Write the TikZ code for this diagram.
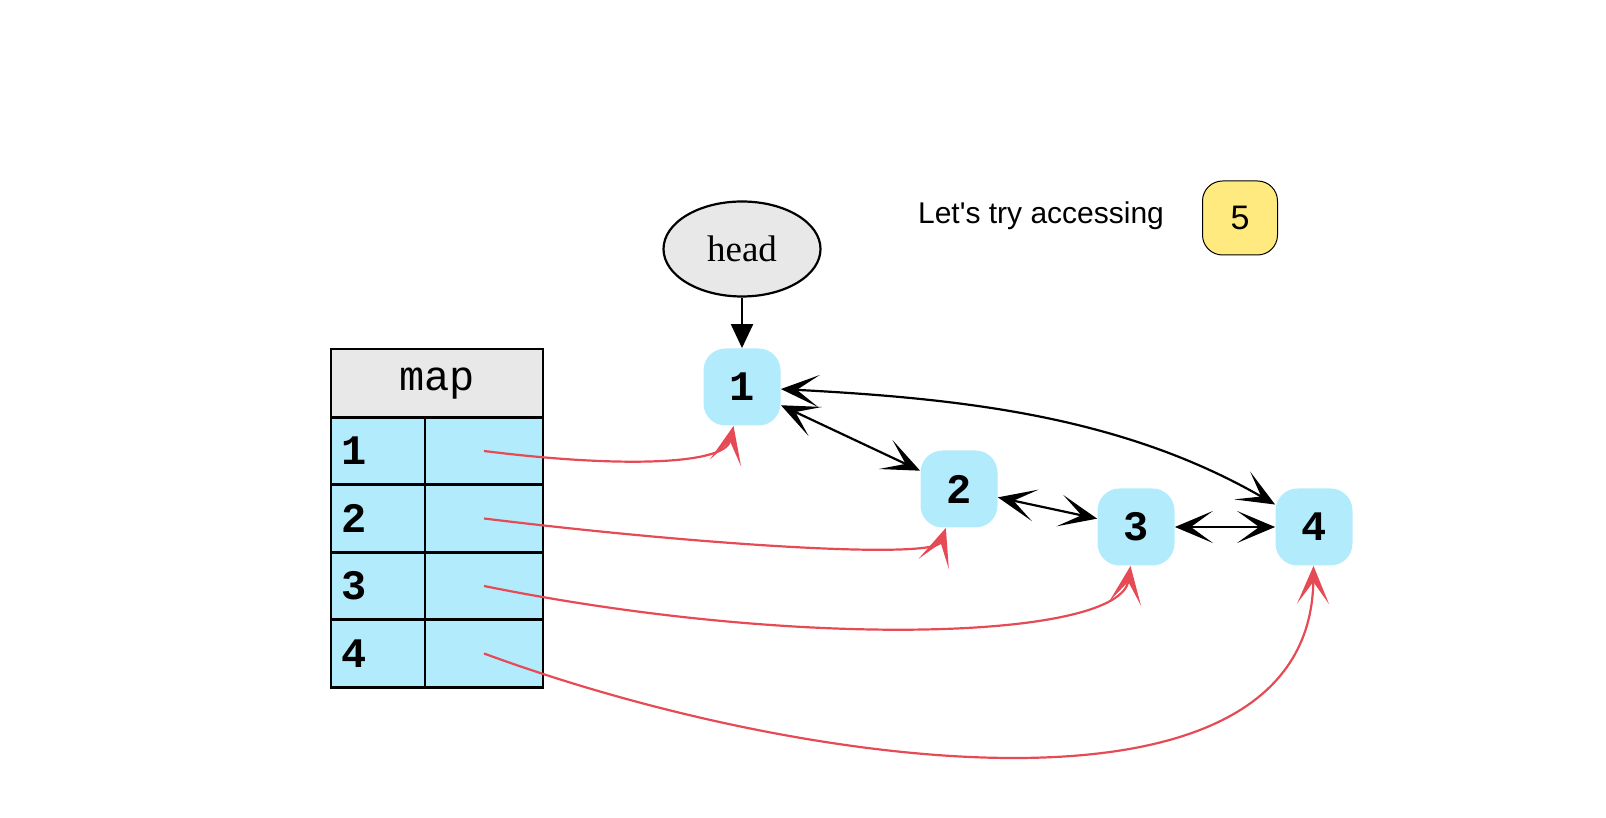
\documentclass[tikz,border=0pt]{standalone}
\usepackage{fontspec}
\usetikzlibrary{arrows.meta,shapes.geometric}
\newfontfamily\headfont{Liberation Serif}
\newfontfamily\notefont{Liberation Sans}
\newfontfamily\mapfont{Liberation Mono}
\definecolor{listblue}{RGB}{178,235,252}
\definecolor{mapgray}{RGB}{232,232,232}
\definecolor{lookyellow}{RGB}{255,234,128}
\definecolor{hashred}{RGB}{230,75,85}
\begin{document}
\begin{tikzpicture}[x=0.5pt,y=0.5pt,
	item/.style={fill=listblue,rounded corners=11pt,minimum size=38.5pt,inner sep=0pt,font=\mapfont\bfseries\fontsize{21}{26}\selectfont},
	cell/.style={draw,line width=1.3pt,fill=listblue,minimum height=33.75pt,inner sep=0pt},
	link/.style={line width=1.1pt,{Stealth[length=19pt,width=16pt,inset=11pt]}-{Stealth[length=19pt,width=16pt,inset=11pt]}},
	hashlink/.style={hashred,line width=1.1pt,-{Stealth[length=19pt,width=16pt,inset=11pt]}}]
	\useasboundingbox (0,0) rectangle (1606,818);
	\node[ellipse,draw,line width=1.1pt,fill=mapgray,minimum width=78.5pt,minimum height=47.5pt,font=\headfont\fontsize{18.5}{22}\selectfont] (head) at (742,569) {head};
	\node[item] (n1) at (742,431) {1};
	\node[item] (n2) at (959,329) {2};
	\node[item] (n3) at (1136,291) {3};
	\node[item] (n4) at (1314,291) {4};
	\node[font=\notefont\fontsize{15}{18}\selectfont] (note) at (1041,602) {Let\textquotesingle s try accessing};
	\node[draw,line width=0.5pt,fill=lookyellow,rounded corners=10pt,minimum width=37.5pt,minimum height=37pt,font=\notefont\fontsize{17}{20}\selectfont] (n5) at (1240,600) {5};
	\node[cell,fill=mapgray,minimum width=106pt,minimum height=34.5pt,font=\mapfont\fontsize{21}{24}\selectfont] (map) at (437,434.5) {map};
	\foreach \i in {1,...,4}{
		\node[cell,minimum width=47pt,text width=37pt,align=left,font=\mapfont\bfseries\fontsize{21}{26}\selectfont] (k\i) at (378,434.5-67.5*\i) {\i};
		\node[cell,minimum width=59pt] (v\i) at (484,434.5-67.5*\i) {};
	}
	\draw[-{Triangle[length=12pt,width=11pt]},line width=1.1pt] (head) -- (n1);
	\draw[link] (n1) -- (n2);
	\draw[link] (n2) -- (n3);
	\draw[link] (n3) -- (n4);
	\draw[link] (n1) to[out=-3,in=150,looseness=0.9] (n4);
	\draw[hashlink] (v1.center) .. controls (620,350) and +(-17,-78) .. (n1);
	\draw[hashlink] (v2.center) .. controls (700,273) and +(-24,-71) .. (n2);
	\draw[hashlink] (v3.center) .. controls (800,168) and +(-16,-113) .. (n3);
	\draw[hashlink] (v4.center) .. controls (800,48) and +(-4,-313) .. (n4);
\end{tikzpicture}
\end{document}
